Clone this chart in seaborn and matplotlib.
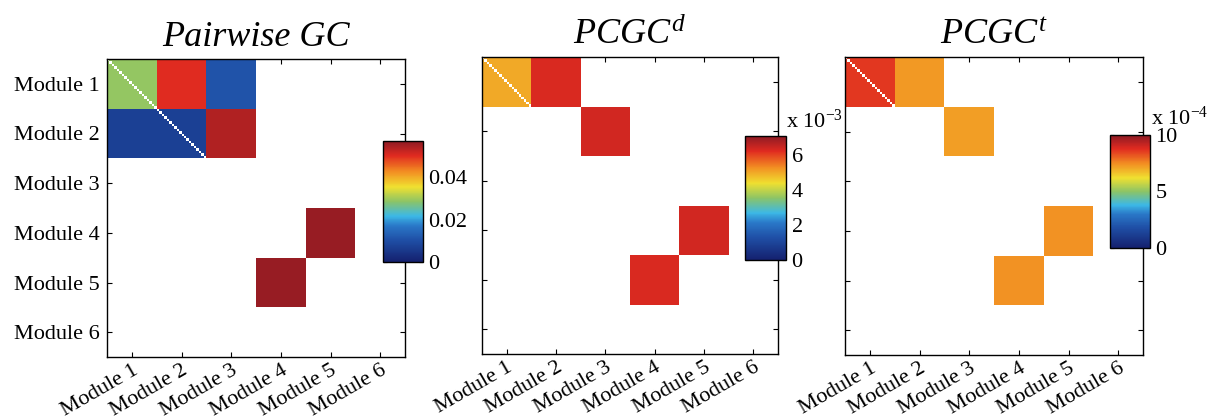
import numpy as np
import seaborn as sns
import matplotlib.pyplot as plt
from matplotlib.colors import LinearSegmentedColormap

# module-level connectivity (rows = target module, cols = source module)
MODULES = ["Module 1", "Module 2", "Module 3", "Module 4", "Module 5", "Module 6"]
NODES_PER_MODULE = 20

pairwise_gc = [
    [0.029, 0.050, 0.011, 0, 0, 0],
    [0.007, 0.007, 0.054, 0, 0, 0],
    [0, 0, 0, 0, 0, 0],
    [0, 0, 0, 0, 0.056, 0],
    [0, 0, 0, 0.056, 0, 0],
    [0, 0, 0, 0, 0, 0],
]
# in units of 1e-3
pcgc_d = [
    [5.0, 6.3, 0, 0, 0, 0],
    [0, 0, 6.4, 0, 0, 0],
    [0, 0, 0, 0, 0, 0],
    [0, 0, 0, 0, 6.4, 0],
    [0, 0, 0, 6.3, 0, 0],
    [0, 0, 0, 0, 0, 0],
]
# in units of 1e-4
pcgc_t = [
    [8.6, 7.3, 0, 0, 0, 0],
    [0, 0, 7.2, 0, 0, 0],
    [0, 0, 0, 0, 0, 0],
    [0, 0, 0, 0, 7.4, 0],
    [0, 0, 0, 7.4, 0, 0],
    [0, 0, 0, 0, 0, 0],
]

TITLES = ["Pairwise GC", r"$\mathit{PCGC}^{d}$", r"$\mathit{PCGC}^{t}$"]
VMAX = [0.057, 7.1, 10.0]
CB_TICKS = [[0, 0.02, 0.04], [0, 2, 4, 6], [0, 5, 10]]
CB_LABELS = [["0", "0.02", "0.04"], ["0", "2", "4", "6"], ["0", "5", "10"]]
CB_SCALE = [None, r"x 10$^{-3}$", r"x 10$^{-4}$"]

# washed-out MATLAB jet as in the print
jet_print = LinearSegmentedColormap.from_list(
    "jet_print",
    [
        (0.00, "#14206e"),
        (0.18, "#1f4fa6"),
        (0.30, "#2a78c8"),
        (0.38, "#3cb8e6"),
        (0.50, "#8cc466"),
        (0.62, "#f0e030"),
        (0.75, "#f28c22"),
        (0.88, "#e02a20"),
        (1.00, "#8c1a24"),
    ],
)

sns.set_style("white")
plt.rcParams["font.family"] = ["Liberation Serif", "DejaVu Serif"]
plt.rcParams["mathtext.fontset"] = "custom"
plt.rcParams["mathtext.rm"] = "Liberation Serif"
plt.rcParams["mathtext.it"] = "Liberation Serif:italic"
plt.rcParams["text.color"] = "black"
plt.rcParams["xtick.color"] = "black"
plt.rcParams["ytick.color"] = "black"
plt.rcParams["axes.labelcolor"] = "black"

fig = plt.figure(figsize=(12.11, 4.2), dpi=100)

W, H = 1211.0, 420.0


def frac(x0, y0, x1, y1):
    # pixel box (top-left origin) -> figure fraction rect
    return [x0 / W, 1 - y1 / H, (x1 - x0) / W, (y1 - y0) / H]


ax_boxes = [(107, 59, 405, 357), (482, 57, 778, 354), (845, 57, 1143, 355)]
cb_boxes = [(383, 141, 423, 262), (745, 136, 786, 260), (1110, 135, 1150, 248)]
scale_pos = [None, (786, 121), (1151, 118)]

n = NODES_PER_MODULE
ticks = np.arange(len(MODULES)) * n + n / 2

for i, blocks in enumerate([pairwise_gc, pcgc_d, pcgc_t]):
    mat = np.kron(np.array(blocks, dtype=float), np.ones((n, n)))
    mask = (mat == 0) | np.eye(mat.shape[0], dtype=bool)

    ax = fig.add_axes(frac(*ax_boxes[i]))
    cax = fig.add_axes(frac(*cb_boxes[i]))

    sns.heatmap(
        mat,
        mask=mask,
        cmap=jet_print,
        vmin=0,
        vmax=VMAX[i],
        ax=ax,
        cbar_ax=cax,
        xticklabels=False,
        yticklabels=False,
        rasterized=True,
    )

    for s in ax.spines.values():
        s.set_visible(True)
        s.set_color("black")
        s.set_linewidth(1.0)
    ax.set_xticks(ticks)
    ax.set_yticks(ticks)
    ax.set_xticklabels(MODULES, rotation=30, ha="right", rotation_mode="anchor", fontsize=16)
    if i == 0:
        ax.set_yticklabels(MODULES, rotation=0, fontsize=16)
    else:
        ax.set_yticklabels([])
    ax.tick_params(direction="in", length=3.5, width=0.8, top=True, right=True,
                   bottom=True, left=True, pad=5, colors="black")
    ax.tick_params(axis="x", pad=3)
    ax.set_title(TITLES[i], fontsize=26, style="italic", pad=9, color="black")

    cb = ax.collections[0].colorbar
    cb.outline.set_visible(True)
    cb.outline.set_linewidth(1.0)
    cb.outline.set_edgecolor("black")
    cb.set_ticks(CB_TICKS[i])
    cb.set_ticklabels(CB_LABELS[i])
    cax.tick_params(direction="in", length=3, width=0.8, left=True, right=True,
                    labelright=True, labelleft=False, labelsize=16, pad=4,
                    colors="black")

    if CB_SCALE[i]:
        x, y = scale_pos[i]
        fig.text(x / W, 1 - y / H, CB_SCALE[i], fontsize=16, ha="left", va="center")

fig.savefig("out.png", dpi=100)
